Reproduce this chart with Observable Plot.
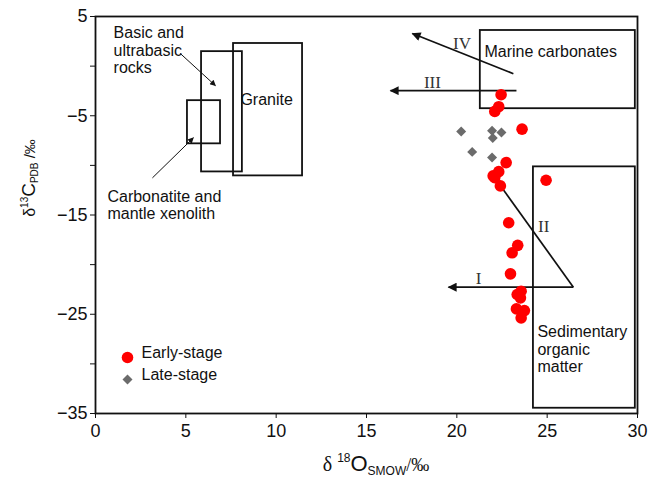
<!DOCTYPE html>
<html><head><meta charset="utf-8">
<script src="https://cdn.jsdelivr.net/npm/d3@7"></script>
<script src="https://cdn.jsdelivr.net/npm/@observablehq/plot@0.6"></script>
<style>body{margin:0;background:#fff}#chart{width:656px;height:477px}</style>
</head><body><div id="chart"></div>
<script>
// Early-stage samples (δ18O SMOW, δ13C PDB)
const earlyO = [22.45, 22.32, 22.10, 23.61, 22.73, 22.32, 22.01, 22.10, 22.41, 24.94, 22.87, 23.37, 23.06, 22.97, 23.56, 23.34, 23.52, 23.30, 23.74, 23.56];
const earlyC = [-2.88, -4.09, -4.56, -6.35, -9.72, -10.63, -11.06, -11.23, -12.07, -11.5, -15.78, -18.06, -18.81, -20.93, -22.68, -23.01, -23.35, -24.46, -24.63, -25.37];
// Late-stage samples
const lateO = [20.24, 21.95, 22.47, 21.99, 20.85, 21.95];
const lateC = [-6.59, -6.52, -6.69, -7.25, -8.64, -9.21];

// Source field boxes
const boxNames = ["Marine carbonates", "Sedimentary organic matter", "Granite", "Basic and ultrabasic rocks", "Carbonatite and mantle xenolith"];
const boxO1 = [21.3, 24.24, 7.64, 5.87, 5.09];
const boxO2 = [29.88, 29.88, 11.46, 8.13, 6.92];
const boxC1 = [-4.29, -34.47, -11.06, -10.66, -7.83];
const boxC2 = [3.59, -10.15, 2.28, 1.46, -3.48];

// Box labels
const labelText = ["Marine carbonates", "Sedimentary\norganic\nmatter", "Granite", "Basic and\nultrabasic\nrocks", "Carbonatite and\nmantle xenolith"];
const labelO = [21.53, 24.46, 8.02, 1.0, 0.66];
const labelC = [2.21, -26.07, -2.64, 4.06, -12.43];

// Trend arrows I–IV
const trendNames = ["I", "II", "III", "IV"];
const trendO1 = [26.45, 26.45, 23.30, 23.13];
const trendC1 = [-22.27, -22.27, -2.47, -0.76];
const trendO2 = [19.54, 22.14, 16.33, 17.54];
const trendC2 = [-22.27, -11.36, -2.47, 3.28];
const trendLabelO = [21.21, 24.81, 18.65, 20.29];
const trendLabelC = [-21.39, -16.14, -1.67, 2.24];

// Pointer arrows from labels to boxes
const pointerO1 = [4.70, 3.15];
const pointerC1 = [1.26, -11.26];
const pointerO2 = [6.64, 5.42];
const pointerC2 = [-1.97, -7.22];

// Axis ticks
const xTicks = [0, 5, 10, 15, 20, 25, 30];
const yTicks = [5, 0, -5, -10, -15, -20, -25, -30, -35];
const legendLabels = ["Early-stage", "Late-stage"];

const early = earlyO.map((o, i) => ({o, c: earlyC[i]}));
const late = lateO.map((o, i) => ({o, c: lateC[i]}));
const boxes = boxNames.map((n, i) => ({n, x1: boxO1[i], x2: boxO2[i], y1: boxC1[i], y2: boxC2[i]}));
const labels = labelText.map((t, i) => ({t, o: labelO[i], c: labelC[i]}));
const trends = trendNames.map((n, i) => ({n, x1: trendO1[i], y1: trendC1[i], x2: trendO2[i], y2: trendC2[i], lo: trendLabelO[i], lc: trendLabelC[i]}));
const pointers = pointerO1.map((o, i) => ({x1: o, y1: pointerC1[i], x2: pointerO2[i], y2: pointerC2[i]}));

const fmt = d => (d % 10 !== 0 ? (d < 0 ? "\u2212" + (-d) : String(d)) : "");

const svg = Plot.plot({
  width: 656, height: 477,
  marginLeft: 95, marginRight: 19, marginTop: 16, marginBottom: 64,
  style: {fontFamily: "Liberation Sans, Arial, sans-serif", fontSize: "18px", color: "#111", background: "white"},
  x: {domain: [0, 30], ticks: xTicks, tickSize: 5, tickPadding: 6, label: null},
  y: {domain: [-35, 5], ticks: yTicks, tickSize: 5, tickPadding: 3, tickFormat: fmt, label: null},
  marks: [
    Plot.rect(boxes, {x1: "x1", x2: "x2", y1: "y1", y2: "y2", fill: "none", stroke: "#111", strokeWidth: 1.8}),
    Plot.text(labels, {x: "o", y: "c", text: "t", textAnchor: "start", lineAnchor: "top", fontSize: 16, lineHeight: 1.09, fill: "#111", style: "letter-spacing:0.8px"}),
    Plot.link(trends, {x1: "x1", y1: "y1", x2: "x2", y2: "y2", stroke: "#111", strokeWidth: 1.7, ariaLabel: () => "trendlink"}),
    Plot.text(trends, {x: "lo", y: "lc", text: "n", fontFamily: "Liberation Serif, Times New Roman, serif", fontSize: 17, fill: "#333"}),
    Plot.link(pointers, {x1: "x1", y1: "y1", x2: "x2", y2: "y2", stroke: "#111", strokeWidth: 1, ariaLabel: () => "pointerlink"}),
    Plot.dot(late, {x: "o", y: "c", symbol: "diamond2", r: 4.5, fill: "#6b6b6b", stroke: "none"}),
    Plot.dot(early, {x: "o", y: "c", r: 5.8, fill: "#ff0000", stroke: "none"}),
    Plot.dot([legendLabels[0]], {frameAnchor: "bottom-left", dx: 32, dy: -56, r: 5.8, fill: "#ff0000"}),
    Plot.dot([legendLabels[1]], {frameAnchor: "bottom-left", dx: 32, dy: -34, symbol: "diamond2", r: 4.5, fill: "#6b6b6b"}),
    Plot.text([legendLabels[0]], {frameAnchor: "bottom-left", dx: 46, dy: -56, text: d => d, textAnchor: "start", fontSize: 16, fill: "#111", style: "letter-spacing:0.7px"}),
    Plot.text([legendLabels[1]], {frameAnchor: "bottom-left", dx: 46, dy: -34, text: d => d, textAnchor: "start", fontSize: 16, fill: "#111", style: "letter-spacing:0.7px"}),
    Plot.frame({stroke: "#111", strokeWidth: 1.8})
  ]
});

const s = d3.select(svg);
const defs = s.insert("defs", ":first-child");
function marker(id, w, h) {
  defs.append("marker").attr("id", id).attr("viewBox", "0 0 10 10").attr("refX", 9).attr("refY", 5)
    .attr("markerUnits", "userSpaceOnUse").attr("markerWidth", w).attr("markerHeight", h).attr("orient", "auto")
    .append("path").attr("d", "M0,0L10,5L0,10Z").attr("fill", "#111");
}
marker("headBig", 13, 9);
marker("headSmall", 8, 6);
const links = s.selectAll('g[aria-label="link"]').nodes();
d3.select(links[0]).selectAll("path, line").attr("marker-end", "url(#headBig)");
d3.select(links[1]).selectAll("path, line").attr("marker-end", "url(#headSmall)");

// Axis titles with sub/superscripts
const xt = s.append("text").attr("x", 376).attr("y", 471).attr("text-anchor", "middle").attr("fill", "#111").attr("font-family", "Liberation Sans, Arial, sans-serif");
xt.append("tspan").attr("font-size", 20).attr("font-family", "Liberation Serif, serif").text("δ ");
xt.append("tspan").attr("font-size", 12).attr("dy", -9).text("18");
xt.append("tspan").attr("font-size", 22).attr("dy", 9).text("O");
xt.append("tspan").attr("font-size", 12).attr("dy", 4).text("SMOW");
xt.append("tspan").attr("font-size", 18).attr("dy", -4).attr("font-family", "Liberation Serif, serif").text("/‰");

const yt = s.append("text").attr("transform", "translate(35,178) rotate(-90)").attr("text-anchor", "middle").attr("fill", "#111").attr("font-family", "Liberation Sans, Arial, sans-serif");
yt.append("tspan").attr("font-size", 16).text("δ");
yt.append("tspan").attr("font-size", 10).attr("dy", -7).text("13");
yt.append("tspan").attr("font-size", 19).attr("dy", 7).text("C");
yt.append("tspan").attr("font-size", 10).attr("dy", 3).text("PDB");
yt.append("tspan").attr("font-size", 15).attr("dy", -3).text(" /‰");

document.getElementById("chart").appendChild(svg);
</script>
</body></html>
